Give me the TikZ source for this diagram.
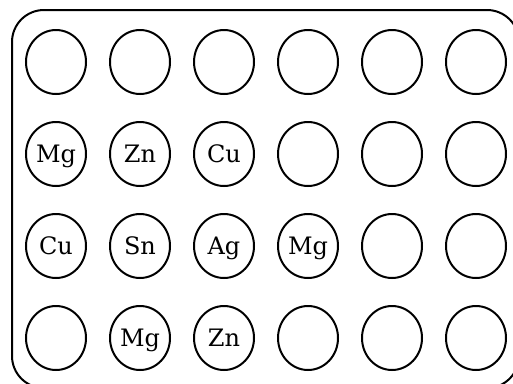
\documentclass[tikz,border=0pt]{standalone}
\usepackage{fontspec}
\setmainfont{DejaVu Serif}
\usetikzlibrary{shapes.geometric}
\begin{document}
\begin{tikzpicture}[x=1pt,y=-1pt,
  well/.style={draw,line width=2pt,shape=ellipse,inner sep=0pt,minimum width=60pt,minimum height=64pt,
    font=\fontsize{24}{26}\selectfont,text height=17.5pt,text depth=0pt},
  frame/.style={draw,line width=2pt,rounded corners=32pt}]
\useasboundingbox (0,0) rectangle (513,383);
\clip (0,0) rectangle (513,383);
\path[frame] (12,10) rectangle (519,388);
\foreach \r/\y/\la/\lb/\lc/\ld in {1/62////,2/154/Mg/Zn/Cu/,3/246/Cu/Sn/Ag/Mg,4/338//Mg/Zn/}{
  \node[well] (w\r1) at (56,\y) {\la};
  \node[well] (w\r2) at (140,\y) {\lb};
  \node[well] (w\r3) at (224,\y) {\lc};
  \node[well] (w\r4) at (308,\y) {\ld};
  \node[well] (w\r5) at (392,\y) {};
  \node[well] (w\r6) at (476,\y) {};
}
\end{tikzpicture}
\end{document}
